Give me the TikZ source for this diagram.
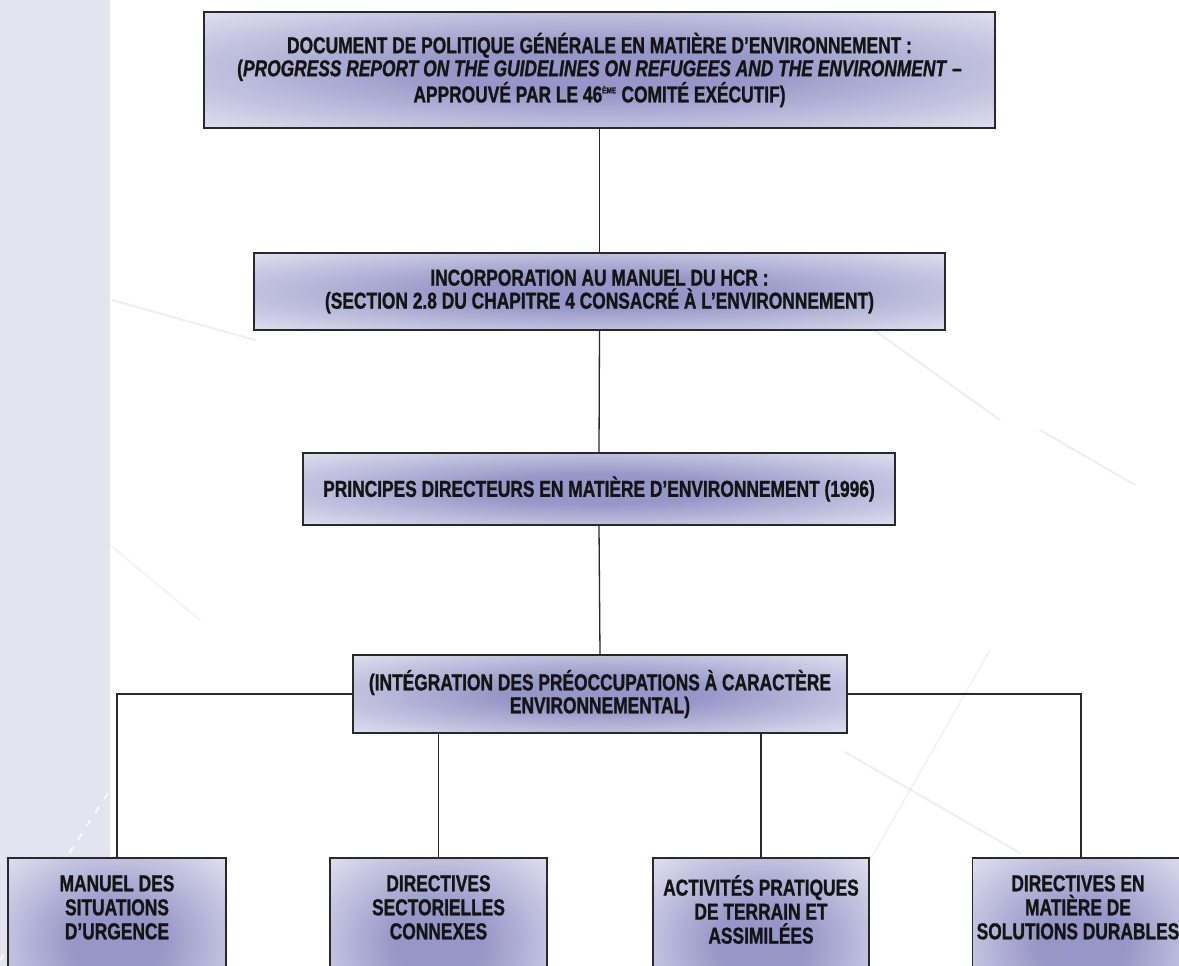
\documentclass[tikz,border=0pt]{standalone}
\usepackage{fontspec}
\setmainfont{Liberation Sans}[FakeStretch=0.755, FakeBold=1.1]
\usetikzlibrary{calc}
\definecolor{strip}{RGB}{228,228,240}
\definecolor{boxc}{RGB}{150,150,200}
\definecolor{boxe}{RGB}{248,248,252}
\definecolor{linec}{RGB}{40,40,45}
\definecolor{streak}{RGB}{200,200,222}
\pgfdeclareradialshading{boxshade}{\pgfpoint{0bp}{0bp}}{color(0bp)=(boxc); color(10bp)=(boxc); color(44bp)=(boxe); color(75bp)=(boxe)}
\tikzset{
  box/.style={draw=linec, line width=1.5pt, shading=boxshade, align=center,
    font=\bfseries\fontsize{23}{23}\selectfont, text=black!92, inner sep=0pt},
  boxtext/.style={font=\bfseries\fontsize{23}{24}\selectfont, text=black!92, align=center, anchor=north, inner sep=0pt},
  conn/.style={draw=linec, line width=1.3pt},
  streakline/.style={draw=streak, line width=2pt, line cap=round, opacity=0.3}
}
\begin{document}
\begin{tikzpicture}[x=1pt,y=-1pt]
\useasboundingbox (0,0) rectangle (1179,966);
\clip (0,0) rectangle (1179,966);
\fill[white] (0,0) rectangle (1179,966);
\fill[strip] (0,0) rectangle (110,966);
% faint background streaks
\draw[streakline] (112,300) -- (255,340);
\draw[streakline] (860,320) -- (1000,420);
\draw[streakline] (1040,430) -- (1135,485);
\draw[streakline] (845,752) -- (1020,853);
\draw[streakline, opacity=0.2] (870,860) -- (990,650);
\draw[streakline, white, opacity=0.8, dash pattern=on 6pt off 10pt] (0,960) -- (110,790);
\draw[streakline, opacity=0.2] (110,545) -- (200,620);

\node[box, minimum width=791pt, minimum height=116pt] (top) at (599.5,70)
 {DOCUMENT DE POLITIQUE GÉNÉRALE EN MATIÈRE D’ENVIRONNEMENT :\\
 (\textit{PROGRESS REPORT ON THE GUIDELINES ON REFUGEES AND THE ENVIRONMENT} –\\
 APPROUVÉ PAR LE 46\textsuperscript{\fontsize{8.5}{9}\selectfont ÈME} COMITÉ EXÉCUTIF)};
\node[box, minimum width=691pt, minimum height=77pt] (inc) at (599.5,291.5)
 {INCORPORATION AU MANUEL DU HCR :\\(SECTION 2.8 DU CHAPITRE 4 CONSACRÉ À L’ENVIRONNEMENT)};
\node[box, minimum width=592pt, minimum height=72pt] (prin) at (599,489)
 {PRINCIPES DIRECTEURS EN MATIÈRE D’ENVIRONNEMENT (1996)};
\node[box, minimum width=494pt, minimum height=78pt] (integ) at (600,694)
 {(INTÉGRATION DES PRÉOCCUPATIONS À CARACTÈRE\\ENVIRONNEMENTAL)};

\node[box, minimum width=218pt, minimum height=170pt, anchor=north] (b1) at (117,857) {};
\node[box, minimum width=217pt, minimum height=170pt, anchor=north] (b2) at (438.5,857) {};
\node[box, minimum width=216pt, minimum height=170pt, anchor=north] (b3) at (761,857) {};
\node[box, minimum width=217pt, minimum height=170pt, anchor=north] (b4) at (1081,857) {};
\node[boxtext] (t1) at (117,875) {MANUEL DES\\SITUATIONS\\D’URGENCE};
\node[boxtext] (t2) at (438.5,875) {DIRECTIVES\\SECTORIELLES\\CONNEXES};
\node[boxtext] (t3) at (761,875) {ACTIVITÉS PRATIQUES\\DE TERRAIN ET\\ASSIMILÉES};
\node[boxtext] (t4) at (1078,875) {DIRECTIVES EN\\MATIÈRE DE\\SOLUTIONS DURABLES};

\draw[conn] (top.south) -- (inc.north);
\draw[conn] (inc.south) -- (prin.north);
\draw[conn] (prin.south) -- (integ.north);
\draw[conn] (integ.west) -| (b1.north);
\draw[conn] (integ.east) -| (b4.north);
\draw[conn] (integ.south -| b2.north) -- (b2.north);
\draw[conn] (integ.south -| b3.north) -- (b3.north);
\end{tikzpicture}
\end{document}
